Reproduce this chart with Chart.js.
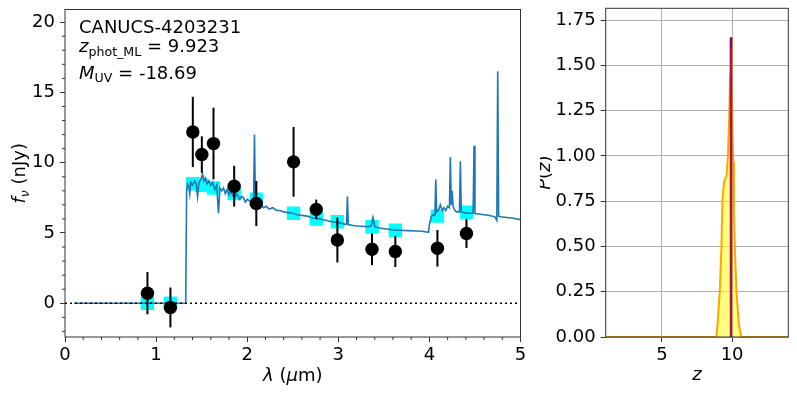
<!DOCTYPE html>
<html>
<head>
<meta charset="utf-8">
<script src="https://cdn.jsdelivr.net/npm/chart.js@4.4.1/dist/chart.umd.min.js"></script>
<style>
  html, body { margin: 0; padding: 0; background: #fff; }
  #wrap { position: relative; width: 797px; height: 399px; }
  #sed { position: absolute; left: 0; top: 0; }
  #pz { position: absolute; left: 540px; top: 0; }
</style>
</head>
<body>
<div id="wrap">
  <canvas id="sed" width="540" height="399"></canvas>
  <canvas id="pz" width="257" height="399"></canvas>
</div>
<script>
// ---- data ----
const objName = 'CANUCS-4203231';
const zphotML = 9.923;
const mUV = -18.69;

// observed photometry (um, nJy)
const obsLam  = [0.905, 1.157, 1.403, 1.502, 1.630, 1.857, 2.100, 2.509, 2.758, 2.990, 3.370, 3.626, 4.088, 4.407];
const obsFlux = [0.72, -0.30, 12.19, 10.58, 11.36, 8.33, 7.10, 10.06, 6.68, 4.50, 3.84, 3.68, 3.91, 4.97];
const obsErr  = [1.50, 1.42, 2.50, 1.30, 2.55, 1.45, 1.60, 2.48, 0.70, 1.60, 1.13, 1.10, 1.30, 1.03];
// model photometry in the same bands
const modelPhot = [0.0, 0.0, 8.5, 8.4, 8.2, 7.8, 7.4, 6.4, 6.0, 5.8, 5.45, 5.2, 6.2, 6.47];

// best-fit model spectrum
const modelLam = [0.10, 1.325, 1.335, 1.345, 1.36, 1.37, 1.38, 1.40, 1.42, 1.44, 1.455, 1.47, 1.49, 1.51, 1.525,
  1.54, 1.56, 1.58, 1.60, 1.62, 1.645, 1.665, 1.685, 1.70, 1.72, 1.74, 1.76, 1.78, 1.80, 1.82, 1.84, 1.86, 1.88,
  1.90, 1.92, 1.94, 1.96, 1.98, 2.00, 2.02, 2.05, 2.07, 2.08, 2.09, 2.11, 2.13, 2.15, 2.18, 2.21, 2.24, 2.28, 2.32,
  2.36, 2.40, 2.45, 2.50, 2.55, 2.60, 2.66, 2.70, 2.75, 2.80, 2.86, 2.93, 3.00, 3.06, 3.09, 3.10, 3.11, 3.15, 3.20,
  3.26, 3.32, 3.36, 3.38, 3.40, 3.45, 3.53, 3.60, 3.68, 3.76, 3.86, 3.92, 3.99, 4.00, 4.02, 4.04, 4.06, 4.07, 4.08,
  4.10, 4.12, 4.14, 4.16, 4.18, 4.20, 4.22, 4.23, 4.24, 4.25, 4.26, 4.28, 4.30, 4.33, 4.34, 4.35, 4.38, 4.42, 4.47,
  4.48, 4.49, 4.50, 4.54, 4.60, 4.66, 4.72, 4.74, 4.75, 4.76, 4.78, 4.85, 4.92, 5.00];
const modelFlux = [0, 0, 8.0, 8.5, 8.3, 7.8, 8.6, 8.4, 8.7, 8.5, 7.6, 8.6, 8.8, 9.2, 8.7,
  8.9, 8.5, 8.7, 8.4, 8.6, 8.1, 8.4, 6.4, 8.2, 8.0, 8.2, 7.8, 8.1, 7.7, 8.0, 7.7, 7.5, 7.8,
  7.6, 7.4, 7.6, 7.5, 7.2, 7.4, 7.3, 7.2, 7.3, 12.0, 7.2, 7.1, 6.8, 7.0, 6.8, 6.9, 6.7, 6.8, 6.6,
  6.6, 6.5, 6.45, 6.4, 6.3, 6.25, 6.2, 6.1, 6.05, 6.0, 5.9, 5.8, 5.75, 5.65, 5.6, 7.6, 5.6, 5.55, 5.5,
  5.48, 5.45, 5.5, 6.1, 5.45, 5.35, 5.28, 5.22, 5.2, 5.17, 5.14, 5.12, 5.05, 5.6, 6.15, 6.3, 6.25, 8.8, 6.5,
  6.6, 7.0, 6.6, 6.8, 6.6, 6.9, 6.8, 10.4, 7.0, 8.0, 6.9, 6.6, 6.5, 6.5, 10.1, 6.5, 6.45, 6.4, 6.4,
  6.4, 11.2, 6.38, 6.35, 6.3, 6.25, 6.15, 5.9, 16.5, 6.2, 6.15, 6.1, 6.05, 5.95];

// P(z)
const pzZ = [1.0, 8.88, 8.96, 9.12, 9.24, 9.31, 9.43, 9.6, 9.7, 9.79, 9.85, 9.9, 9.93, 9.97, 10.02, 10.07,
  10.13, 10.19, 10.31, 10.48, 10.65, 14.0];
const pzP = [0, 0, 0.07, 0.25, 0.5, 0.75, 0.86, 0.89, 1.0, 1.2, 1.45, 1.63, 1.655, 1.4, 1.15, 0.97,
  0.7, 0.5, 0.25, 0.07, 0, 0];
const pzPeak = 1.655;

// axis ticks
const sedXTicks = [0, 1, 2, 3, 4, 5];
const sedYTicks = [0, 5, 10, 15, 20];
const pzXTicks = [5, 10];
const pzYTicks = [0, 0.25, 0.5, 0.75, 1.0, 1.25, 1.5, 1.75];

// ---- drawing ----
const FS = 18;
const FAM = "'DejaVu Sans'";
Chart.defaults.font.family = FAM;
Chart.defaults.font.size = FS;
Chart.defaults.color = '#000';
const AXC = '#333';

function xy(xs, ys) { return xs.map((x, i) => ({ x: x, y: ys[i] })); }

function fontFor(p) {
  const size = p.sub ? FS * 0.7 : FS;
  return (p.it ? 'italic ' : '') + size + 'px ' + FAM;
}
// draw a run of text pieces: {t, it, sub}
function drawRich(ctx, parts, x, y, align) {
  let total = 0;
  parts.forEach(p => { ctx.font = fontFor(p); p.w = ctx.measureText(p.t).width; total += p.w; });
  let cx = align === 'center' ? x - total / 2 : x;
  ctx.textAlign = 'left';
  ctx.textBaseline = 'alphabetic';
  parts.forEach(p => {
    ctx.font = fontFor(p);
    ctx.fillText(p.t, cx, y + (p.sub ? FS * 0.2 : 0));
    cx += p.w;
  });
}
function drawRotated(ctx, parts, x, y) {
  ctx.save();
  ctx.translate(x, y);
  ctx.rotate(-Math.PI / 2);
  drawRich(ctx, parts, 0, 0, 'center');
  ctx.restore();
}

function frame(chart) {
  const a = chart.chartArea, ctx = chart.ctx;
  ctx.save();
  ctx.strokeStyle = AXC;
  ctx.lineWidth = 1;
  ctx.strokeRect(a.left, a.top, a.right - a.left, a.bottom - a.top);
  ctx.restore();
}

const sedDecor = {
  id: 'sedDecor',
  beforeDatasetDraw(chart, args) {
    if (args.index !== 0) return;
    const ctx = chart.ctx, sx = chart.scales.x, sy = chart.scales.y;
    ctx.save();
    ctx.strokeStyle = '#000';
    ctx.lineWidth = 2;
    obsLam.forEach((l, i) => {
      const px = sx.getPixelForValue(l);
      ctx.beginPath();
      ctx.moveTo(px, sy.getPixelForValue(obsFlux[i] - obsErr[i]));
      ctx.lineTo(px, sy.getPixelForValue(obsFlux[i] + obsErr[i]));
      ctx.stroke();
    });
    ctx.restore();
  },
  afterDraw(chart) {
    const ctx = chart.ctx, a = chart.chartArea, sx = chart.scales.x, sy = chart.scales.y;
    frame(chart);
    // minor ticks
    ctx.save();
    ctx.strokeStyle = AXC;
    ctx.lineWidth = 1;
    for (let v = 0.2; v < 5; v += 0.2) {
      if (Math.abs(v - Math.round(v)) < 1e-6) continue;
      const px = sx.getPixelForValue(v);
      ctx.beginPath(); ctx.moveTo(px, a.bottom); ctx.lineTo(px, a.bottom + 3); ctx.stroke();
    }
    for (let v = -2; v <= 20; v++) {
      if (v % 5 === 0) continue;
      const py = sy.getPixelForValue(v);
      ctx.beginPath(); ctx.moveTo(a.left, py); ctx.lineTo(a.left - 3, py); ctx.stroke();
    }
    ctx.restore();
    // annotation
    ctx.save();
    ctx.fillStyle = '#000';
    const tx = a.left + 14;
    drawRich(ctx, [{ t: objName }], tx, 32.5);
    drawRich(ctx, [{ t: 'z', it: true }, { t: 'phot_ML', sub: true }, { t: ' = ' + zphotML.toFixed(3) }], tx, 52);
    drawRich(ctx, [{ t: 'M', it: true }, { t: 'UV', sub: true }, { t: ' = ' + mUV.toFixed(2) }], tx, 78.5);
    // axis titles
    drawRich(ctx, [{ t: 'λ', it: true }, { t: ' (' }, { t: 'μ', it: true }, { t: 'm)' }], (a.left + a.right) / 2, 381, 'center');
    drawRotated(ctx, [{ t: 'f', it: true }, { t: 'ν', it: true, sub: true }, { t: ' (nJy)' }], 25, (a.top + a.bottom) / 2);
    ctx.restore();
  }
};

const pzDecor = {
  id: 'pzDecor',
  afterDraw(chart) {
    const ctx = chart.ctx, a = chart.chartArea;
    frame(chart);
    ctx.save();
    ctx.fillStyle = '#000';
    drawRich(ctx, [{ t: 'z', it: true }], (a.left + a.right) / 2, 380, 'center');
    drawRotated(ctx, [{ t: 'P', it: true }, { t: '(' }, { t: 'z', it: true }, { t: ')' }], 10, (a.top + a.bottom) / 2);
    ctx.restore();
  }
};

function fixTicks(values) {
  return scale => { scale.ticks = values.map(v => ({ value: v })); };
}

new Chart(document.getElementById('sed'), {
  type: 'scatter',
  data: {
    datasets: [
      { label: 'observed', data: xy(obsLam, obsFlux), pointRadius: 6.7, pointBackgroundColor: '#000',
        pointBorderWidth: 0, order: 0 },
      { label: 'zero', data: [{ x: 0, y: 0 }, { x: 5, y: 0 }], showLine: true, borderColor: '#000',
        borderWidth: 1.5, borderDash: [2, 3], pointRadius: 0, order: 1 },
      { label: 'model', data: xy(modelLam, modelFlux), showLine: true, borderColor: '#1f77b4',
        borderWidth: 1.6, pointRadius: 0, tension: 0, order: 2 },
      { label: 'model phot', data: xy(obsLam, modelPhot), pointStyle: 'rect', pointRadius: 9.5,
        pointBackgroundColor: '#00ffff', pointBorderWidth: 0, order: 3 }
    ]
  },
  options: {
    responsive: false,
    animation: false,
    events: [],
    layout: { padding: { top: 8.3, right: 19.5, left: 0, bottom: 0 } },
    plugins: { legend: { display: false }, tooltip: { enabled: false } },
    scales: {
      x: {
        type: 'linear', min: 0, max: 5,
        afterBuildTicks: fixTicks(sedXTicks),
        afterFit: s => { s.height = 62; s.paddingLeft = 0; s.paddingRight = 0; },
        grid: { drawOnChartArea: false, color: AXC, tickColor: AXC, tickLength: 5 },
        border: { display: false },
        ticks: { padding: 3, maxRotation: 0, autoSkip: false, color: '#000' }
      },
      y: {
        type: 'linear', min: -2.4, max: 20.9,
        afterBuildTicks: fixTicks(sedYTicks),
        afterFit: s => { s.width = 65; s.paddingTop = 0; s.paddingBottom = 0; },
        grid: { drawOnChartArea: false, color: AXC, tickColor: AXC, tickLength: 5 },
        border: { display: false },
        ticks: { padding: 5, autoSkip: false, color: '#000' }
      }
    }
  },
  plugins: [sedDecor]
});

new Chart(document.getElementById('pz'), {
  type: 'scatter',
  data: {
    datasets: [
      { label: 'ML red', data: [{ x: zphotML, y: 0 }, { x: zphotML, y: 1.6 }], showLine: true,
        borderColor: '#e0201b', borderWidth: 1, pointRadius: 0, order: 0 },
      { label: 'zphot ML', data: [{ x: zphotML, y: 0 }, { x: zphotML, y: pzPeak }], showLine: true,
        borderColor: '#800080', borderWidth: 2.5, pointRadius: 0, order: 1 },
      { label: 'P(z)', data: xy(pzZ, pzP), showLine: true, borderColor: '#ffa500', borderWidth: 2,
        backgroundColor: 'rgba(255,255,0,0.5)', fill: 'origin', pointRadius: 0, tension: 0, order: 2 }
    ]
  },
  options: {
    responsive: false,
    animation: false,
    events: [],
    layout: { padding: { top: 8.3, right: 8.7, left: 0, bottom: 0 } },
    plugins: { legend: { display: false }, tooltip: { enabled: false } },
    scales: {
      x: {
        type: 'linear', min: 1, max: 14,
        afterBuildTicks: fixTicks(pzXTicks),
        afterFit: s => { s.height = 62; s.paddingLeft = 0; s.paddingRight = 0; },
        grid: { color: '#b0b0b0', lineWidth: 1, tickColor: AXC, tickLength: 5 },
        border: { display: false },
        ticks: { padding: 3, maxRotation: 0, autoSkip: false, color: '#000' }
      },
      y: {
        type: 'linear', min: 0, max: 1.815,
        afterBuildTicks: fixTicks(pzYTicks),
        afterFit: s => { s.width = 65.7; s.paddingTop = 0; s.paddingBottom = 0; },
        grid: { color: '#b0b0b0', lineWidth: 1, tickColor: AXC, tickLength: 5 },
        border: { display: false },
        ticks: { padding: 5, autoSkip: false, color: '#000', callback: v => v.toFixed(2) }
      }
    }
  },
  plugins: [pzDecor]
});
</script>
</body>
</html>
